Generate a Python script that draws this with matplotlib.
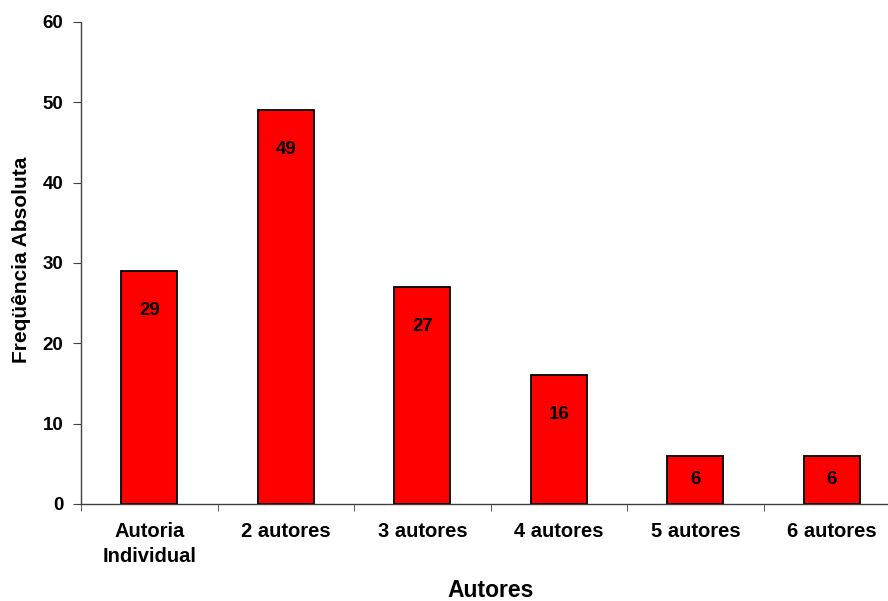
import numpy as np
import matplotlib.pyplot as plt

categorias = ["Autoria\nIndividual", "2 autores", "3 autores", "4 autores", "5 autores", "6 autores"]
frequencias = [29, 49, 27, 16, 6, 6]

plt.rcParams['font.family'] = ['Liberation Sans', 'DejaVu Sans']
plt.rcParams['font.weight'] = 'bold'

fig = plt.figure(figsize=(8.88, 6.01), dpi=100)
ax = fig.add_axes([0.0912, 0.1614, 0.9088, 0.802])

x = np.arange(len(categorias))
ax.bar(x, frequencias, width=0.41, color='#ff0000', edgecolor='black', linewidth=1.3, zorder=3)

# valor escrito dentro de cada barra, perto do topo
for xi, v in zip(x, frequencias):
    off = min(4.9, v / 2)
    ax.text(xi, v - off, str(v), ha='center', va='center', fontsize=13.5,
            fontweight='bold', zorder=4)

ax.set_xlim(-0.5, 5.41)
ax.set_ylim(0, 60)
ax.set_yticks(np.arange(0, 61, 10))

ax.set_xticks(x)
ax.set_xticklabels(categorias, fontsize=14.5, fontweight='bold', linespacing=1.4)
ax.set_xticks(np.arange(-0.5, 5.5, 1), minor=True)
ax.tick_params(axis='x', which='major', length=0, pad=13)
ax.tick_params(axis='x', which='minor', length=5, direction='out', color='#404040')
ax.tick_params(axis='y', length=6, direction='out', color='#404040', pad=6.5, labelsize=13.5)
for lbl in ax.get_yticklabels():
    lbl.set_fontweight('bold')

for s in ['top', 'right']:
    ax.spines[s].set_visible(False)
for s in ['left', 'bottom']:
    ax.spines[s].set_color('#404040')
    ax.spines[s].set_linewidth(1.0)

ax.set_xlabel("Autores", fontsize=16.5, fontweight='bold', va='center')
ax.set_ylabel("Freqüência Absoluta", fontsize=15, fontweight='bold', va='center')
ax.xaxis.set_label_coords((491 - 81) / 807, (504 - 591) / 482)
ax.yaxis.set_label_coords((22 - 81) / 807, (504 - 260) / 482)

fig.savefig("out.png", dpi=100)
